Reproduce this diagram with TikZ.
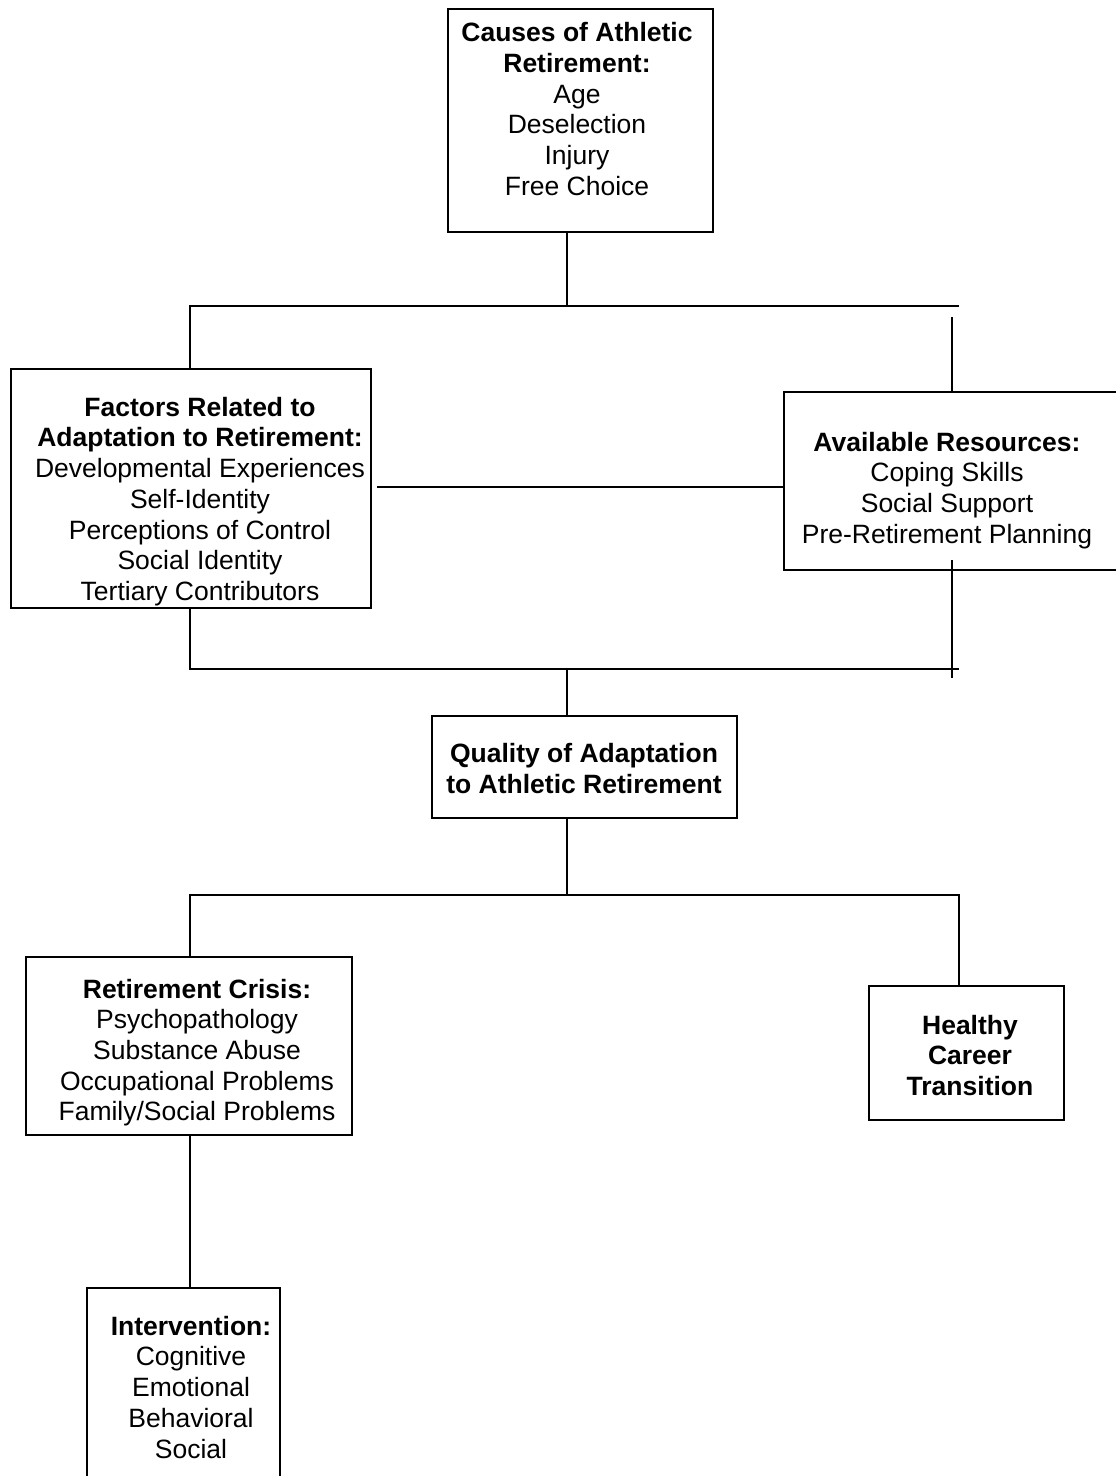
\documentclass[tikz,border=0pt]{standalone}
\usepackage{fontspec}
\setmainfont{Liberation Sans}
\begin{document}
\begin{tikzpicture}[x=1pt,y=-1pt,
  box/.style={draw, line width=2.6pt, rectangle, inner sep=0pt},
  txt/.style={align=center, inner sep=0pt, font=\fontsize{26.5}{30.7}\selectfont},
  conn/.style={line width=2.6pt, line join=miter}]
\useasboundingbox (0,0) rectangle (1116,1476);
% boxes
\node[box, minimum width=265, minimum height=223] (causes) at (580.5,120.5) {};
\node[box, minimum width=360, minimum height=239] (factors) at (191,488.5) {};
\node[box, minimum width=341, minimum height=178] (avail) at (954.5,481) {};
\node[box, minimum width=305, minimum height=102] (quality) at (584.5,767) {};
\node[box, minimum width=326, minimum height=178] (crisis) at (189,1046) {};
\node[box, minimum width=195, minimum height=134] (healthy) at (966.5,1053) {};
\node[box, minimum width=193, minimum height=202] (interv) at (183.5,1389) {};
% texts
\node[txt] (causesT) at (577,112.3) {\strut\textbf{Causes of Athletic}\\\strut\textbf{Retirement:}\\\strut Age\\\strut Deselection\\\strut Injury\\\strut Free Choice};
\node[txt] (factorsT) at (200,502.2) {\strut\textbf{Factors Related to}\\\strut\textbf{Adaptation to Retirement:}\\\strut Developmental Experiences\\\strut Self-Identity\\\strut Perceptions of Control\\\strut Social Identity\\\strut Tertiary Contributors};
\node[txt] (availT) at (947,491.2) {\strut\textbf{Available Resources:}\\\strut Coping Skills\\\strut Social Support\\\strut Pre-Retirement Planning};
\node[txt] (qualityT) at (584,771.7) {\strut\textbf{Quality of Adaptation}\\\strut\textbf{to Athletic Retirement}};
\node[txt] (crisisT) at (197,1053.3) {\strut\textbf{Retirement Crisis:}\\\strut Psychopathology\\\strut Substance Abuse\\\strut Occupational Problems\\\strut Family/Social Problems};
\node[txt] (healthyT) at (970,1058.8) {\strut\textbf{Healthy}\\\strut\textbf{Career}\\\strut\textbf{Transition}};
\node[txt] (intervT) at (191,1390.5) {\strut\textbf{Intervention:}\\\strut Cognitive\\\strut Emotional\\\strut Behavioral\\\strut Social};
% junction coordinates
\coordinate (tL) at (190,306);
\coordinate (tM) at (567,306);
\coordinate (tR) at (959,306);
\coordinate (rA) at (952,317);
\coordinate (mL) at (377,487);
\coordinate (bL) at (190,669);
\coordinate (bM) at (567,669);
\coordinate (bR) at (959,669);
\coordinate (rB1) at (952,560);
\coordinate (rB2) at (952,678);
\coordinate (cL) at (190,895);
\coordinate (cM) at (567,895);
\coordinate (cR) at (959,895);
% connectors
\draw[conn] (causes.south -| tM) -- (tM);
\draw[conn] (tR) -- (tL) -- (factors.north -| tL);
\draw[conn] (rA) -- (avail.north -| rA);
\draw[conn] (mL) -- (mL -| avail.west);
\draw[conn] (factors.south -| bL) -- (bL) -- (bR);
\draw[conn] (bM) -- (quality.north -| bM);
\draw[conn] (rB1) -- (rB2);
\draw[conn] (quality.south -| cM) -- (cM);
\draw[conn] (crisis.north -| cL) -- (cL) -- (cR) -- (healthy.north -| cR);
\draw[conn] (crisis.south -| cL) -- (interv.north -| cL);
\end{tikzpicture}
\end{document}
